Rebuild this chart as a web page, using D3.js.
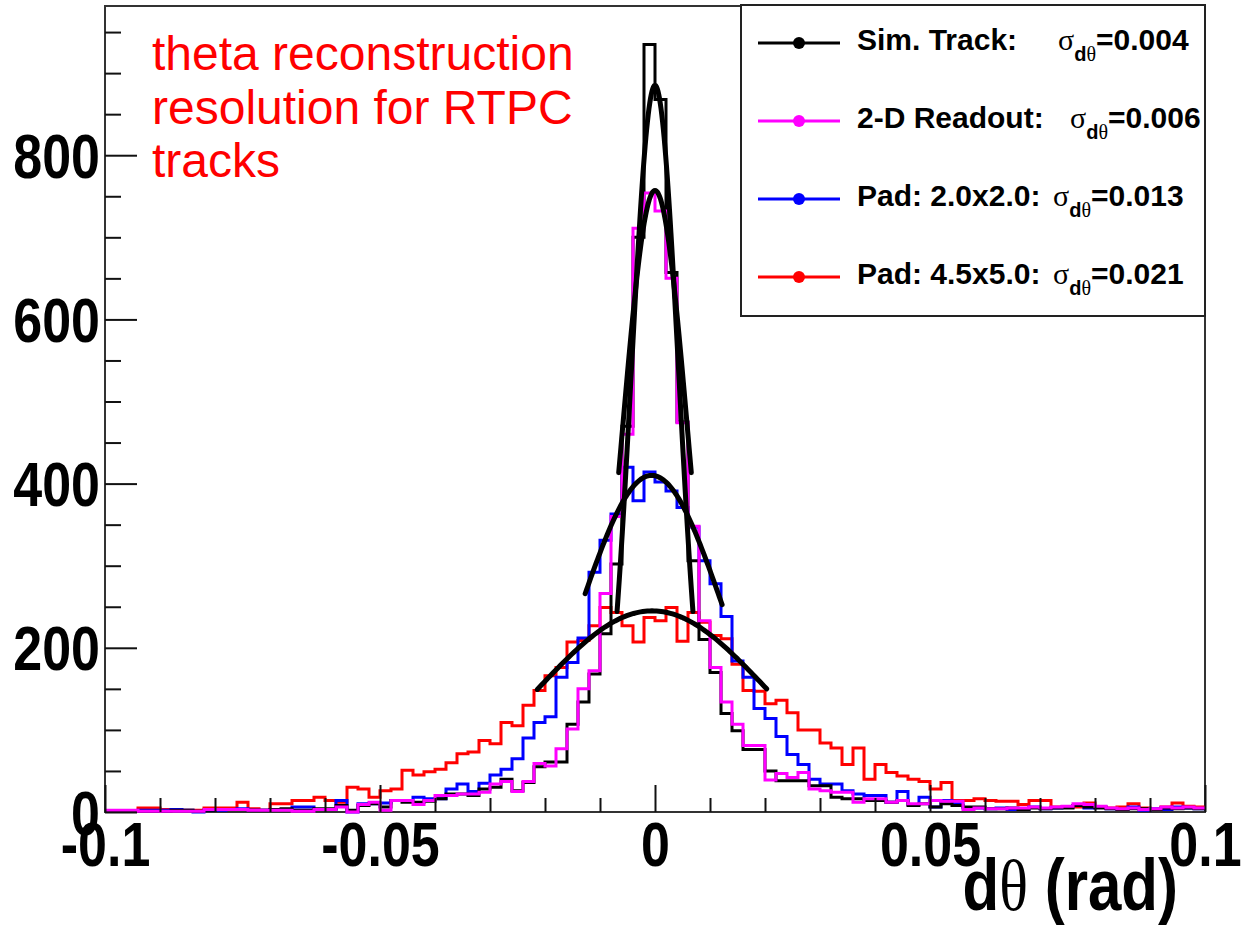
<!DOCTYPE html>
<html>
<head>
<meta charset="utf-8">
<script src="https://cdn.jsdelivr.net/npm/d3@7"></script>
<style>
  body { margin: 0; background: #fff; }
  text { font-family: "Liberation Sans", Arial, Helvetica, sans-serif; }
</style>
</head>
<body>
<svg id="chart" width="1254" height="928"></svg>
<script>
// Histogram range: 100 bins of 0.002 rad between -0.1 and 0.1
const xMin = -0.1, xMax = 0.1, nBins = 100;

// Bin contents (counts per bin, left to right)
const simTrack = [
  1, 1, 1, 1, 1, 1, 2, 2, 1, 2,   3, 3, 3, 2, 2, 3, 4, 2, 2, 4,
  4, 8, 2, 8, 10, 6, 14, 12, 12, 13,   16, 22, 22, 20, 28, 30, 40, 26, 36, 55,
  61, 61, 107, 134, 168, 217, 302, 470, 700, 935,   868, 657, 475, 306, 210, 170, 120, 99, 76, 76,
  50, 38, 38, 38, 32, 32, 18, 16, 16, 14,   14, 12, 14, 8, 10, 6, 10, 8, 6, 6,
  4, 4, 5, 3, 5, 4, 5, 5, 8, 6,   5, 4, 3, 4, 4, 3, 5, 4, 5, 4
];
const readout2D = [
  2, 2, 2, 1, 1, 1, 1, 1, 1, 3,   3, 3, 3, 2, 2, 2, 2, 1, 1, 3,
  3, 6, 0, 9, 12, 2, 14, 14, 9, 14,   20, 20, 22, 22, 24, 34, 37, 25, 37, 59,
  56, 77, 101, 150, 172, 266, 360, 460, 711, 754,   732, 650, 474, 348, 233, 176, 134, 107, 81, 81,
  39, 47, 42, 48, 28, 26, 24, 24, 12, 16,   16, 12, 14, 10, 10, 14, 13, 13, 3, 5,
  4, 4, 5, 5, 6, 5, 6, 7, 10, 9,   7, 5, 4, 5, 3, 4, 6, 5, 6, 5
];
const pad20 = [
  1, 1, 1, 2, 2, 2, 3, 2, 0, 2,   2, 3, 4, 2, 2, 3, 3, 6, 6, 3,
  3, 14, 0, 10, 10, 11, 14, 14, 18, 16,   16, 28, 34, 25, 35, 45, 52, 65, 90, 109,
  116, 164, 182, 212, 292, 331, 363, 420, 379, 414,   402, 391, 371, 347, 306, 278, 238, 184, 164, 126,
  114, 92, 70, 58, 40, 34, 34, 26, 22, 20,   20, 12, 25, 9, 18, 6, 14, 10, 5, 5,
  4, 5, 3, 3, 6, 4, 5, 6, 8, 5,   6, 4, 3, 6, 2, 4, 3, 6, 5, 4
];
const pad45 = [
  1, 1, 1, 5, 5, 3, 2, 2, 2, 5,   5, 5, 12, 4, 2, 10, 10, 14, 14, 18,
  14, 12, 30, 28, 18, 26, 28, 51, 45, 49,   52, 60, 71, 73, 87, 83, 109, 105, 130, 148,
  166, 176, 207, 209, 227, 249, 243, 227, 207, 237,   233, 249, 208, 243, 231, 215, 211, 180, 148, 147,
  132, 136, 121, 100, 100, 84, 78, 58, 78, 40,   58, 48, 44, 40, 37, 28, 36, 14, 14, 16,
  14, 13, 13, 9, 14, 14, 6, 6, 6, 11,   6, 5, 6, 10, 5, 3, 6, 11, 7, 6
];

const seriesData   = [simTrack, readout2D, pad20, pad45];
const seriesNames  = ["Sim. Track:", "2-D Readout:", "Pad: 2.0x2.0:", "Pad: 4.5x5.0:"];
const seriesColors = ["#000000", "#ff00ff", "#0000ff", "#ff0000"];
const sigmaLabels  = ["0.004", "0.006", "0.013", "0.021"];

// Gaussian fit parameters for each histogram
const fitAmp   = [885, 757, 410, 245];
const fitMean  = [0.0, 0.0, -0.0006, -0.0005];
const fitSigma = [0.0043, 0.006, 0.013, 0.021];
const fitLo    = [-0.0069, -0.0066, -0.0127, -0.0214];
const fitHi    = [0.0069, 0.0066, 0.0122, 0.0203];

// Axis ticks
const xMajorTicks = [-0.1, -0.05, 0, 0.05, 0.1];
const xTickLabels = ["-0.1", "-0.05", "0", "0.05", "0.1"];
const yMajorTicks = [0, 200, 400, 600, 800];
const yTickLabels = ["0", "200", "400", "600", "800"];

const noteLines = ["theta reconstruction", "resolution for RTPC", "tracks"];

// ---------------------------------------------------------------------------
const svg = d3.select("#chart");
const frame = { left: 105, right: 1205, top: 6, bottom: 812 };

const yMax = 1.05 * d3.max(simTrack);
const x = d3.scaleLinear().domain([xMin, xMax]).range([frame.left, frame.right]);
const y = d3.scaleLinear().domain([0, yMax]).range([frame.bottom, frame.top]);

const binWidth = (xMax - xMin) / nBins;
const binLow = d3.range(nBins).map(i => xMin + i * binWidth);

// plot frame
svg.append("rect")
  .attr("x", frame.left).attr("y", frame.top)
  .attr("width", frame.right - frame.left).attr("height", frame.bottom - frame.top)
  .attr("fill", "none").attr("stroke", "#333").attr("stroke-width", 2);

// histograms as step outlines
const stepLine = d3.line().x(d => x(d[0])).y(d => y(d[1])).curve(d3.curveStepAfter);
const drawOrder = [3, 2, 0, 1];
drawOrder.forEach(k => {
  const vals = seriesData[k];
  const pts = binLow.map((lo, i) => [lo, vals[i]]);
  pts.push([xMax, vals[nBins - 1]]);
  svg.append("path")
    .attr("d", stepLine(pts))
    .attr("fill", "none")
    .attr("stroke", seriesColors[k])
    .attr("stroke-width", 3)
    .attr("stroke-linejoin", "miter");
});

// Gaussian fit curves
const fitLine = d3.line().x(d => x(d[0])).y(d => y(d[1])).curve(d3.curveLinear);
[3, 2, 1, 0].forEach(k => {
  const pts = d3.range(0, 101).map(j => {
    const t = fitLo[k] + (fitHi[k] - fitLo[k]) * j / 100;
    const z = (t - fitMean[k]) / fitSigma[k];
    return [t, fitAmp[k] * Math.exp(-0.5 * z * z)];
  });
  svg.append("path")
    .attr("d", fitLine(pts))
    .attr("fill", "none")
    .attr("stroke", "#000")
    .attr("stroke-width", 5)
    .attr("stroke-linecap", "round");
});

// axes (ticks point into the frame)
const labelFont = "bold 52px 'Liberation Sans', Arial, sans-serif";

const xMinor = d3.range(-10, 11).map(i => i / 100).filter(v => !xMajorTicks.some(m => Math.abs(m - v) < 1e-9));
svg.append("g").attr("transform", `translate(0,${frame.bottom})`)
  .call(d3.axisBottom(x).tickValues(xMinor).tickSize(-14).tickSizeOuter(0).tickFormat(""))
  .call(g => g.select(".domain").remove())
  .call(g => g.selectAll("line").attr("stroke", "#111").attr("stroke-width", 2));

const xAxisG = svg.append("g").attr("transform", `translate(0,${frame.bottom})`)
  .call(d3.axisBottom(x).tickValues(xMajorTicks).tickSize(-27).tickSizeOuter(0)
        .tickFormat((d, i) => xTickLabels[i]));
xAxisG.select(".domain").remove();
xAxisG.selectAll("line").attr("stroke", "#111").attr("stroke-width", 2);
xAxisG.selectAll("text")
  .attr("y", 0).attr("dy", null)
  .attr("transform", "translate(0,54) scale(1,1.2)")
  .attr("fill", "#000")
  .style("font", labelFont);

const yMinor = d3.range(0, 1000, 50).filter(v => v % 200 !== 0 && v < yMax);
svg.append("g").attr("transform", `translate(${frame.left},0)`)
  .call(d3.axisLeft(y).tickValues(yMinor).tickSize(-16).tickSizeOuter(0).tickFormat(""))
  .call(g => g.select(".domain").remove())
  .call(g => g.selectAll("line").attr("stroke", "#111").attr("stroke-width", 2));

const yAxisG = svg.append("g").attr("transform", `translate(${frame.left},0)`)
  .call(d3.axisLeft(y).tickValues(yMajorTicks).tickSize(-32).tickSizeOuter(0)
        .tickFormat((d, i) => yTickLabels[i]));
yAxisG.select(".domain").remove();
yAxisG.selectAll("line").attr("stroke", "#111").attr("stroke-width", 2);
yAxisG.selectAll("text")
  .attr("x", 0).attr("dy", null)
  .attr("text-anchor", "end")
  .attr("transform", "translate(-5,22) scale(1,1.2)")
  .attr("fill", "#000")
  .style("font", labelFont);

// x-axis title
const xTitle = svg.append("text")
  .attr("text-anchor", "end")
  .attr("transform", "translate(1178,910) scale(1,1.2)")
  .style("font", "bold 60px 'Liberation Sans', Arial, sans-serif")
  .attr("fill", "#000");
xTitle.append("tspan").text("d");
xTitle.append("tspan").style("font-family", "'Liberation Serif', serif").style("font-weight", "normal").text("θ");
xTitle.append("tspan").text(" (rad)");

// annotation
svg.append("g").selectAll("text").data(noteLines).join("text")
  .attr("x", 152)
  .attr("y", (d, i) => 70 + i * 53.5)
  .attr("fill", "#ff0000")
  .style("font-size", "48px")
  .text(d => d);

// legend
const legend = svg.append("g");
legend.append("rect")
  .attr("x", 741).attr("y", 5).attr("width", 464).attr("height", 311)
  .attr("fill", "#fff").attr("stroke", "#222").attr("stroke-width", 2);

const legendRowY = [43, 121, 199, 277];
const legendSigmaX = [1058, 1070, 1053, 1053];
seriesNames.forEach((name, k) => {
  const cy = legendRowY[k];
  legend.append("line")
    .attr("x1", 758).attr("x2", 840).attr("y1", cy).attr("y2", cy)
    .attr("stroke", seriesColors[k]).attr("stroke-width", 3);
  legend.append("circle")
    .attr("cx", 799).attr("cy", cy).attr("r", 6)
    .attr("fill", seriesColors[k]);
  legend.append("text")
    .attr("x", 857).attr("y", cy + 7)
    .style("font", "bold 30px 'Liberation Sans', Arial, sans-serif")
    .attr("fill", "#000")
    .text(name);
  const s = legend.append("text")
    .attr("x", legendSigmaX[k]).attr("y", cy + 7)
    .style("font", "bold 30px 'Liberation Sans', Arial, sans-serif")
    .attr("fill", "#000");
  s.append("tspan").style("font-family", "'Liberation Serif', serif").style("font-weight", "normal").text("σ");
  s.append("tspan").attr("dy", 11).style("font-size", "20px").text("d");
  s.append("tspan").style("font-size", "20px").style("font-family", "'Liberation Serif', serif").style("font-weight", "normal").text("θ");
  s.append("tspan").attr("dy", -11).text("=" + sigmaLabels[k]);
});
</script>
</body>
</html>
